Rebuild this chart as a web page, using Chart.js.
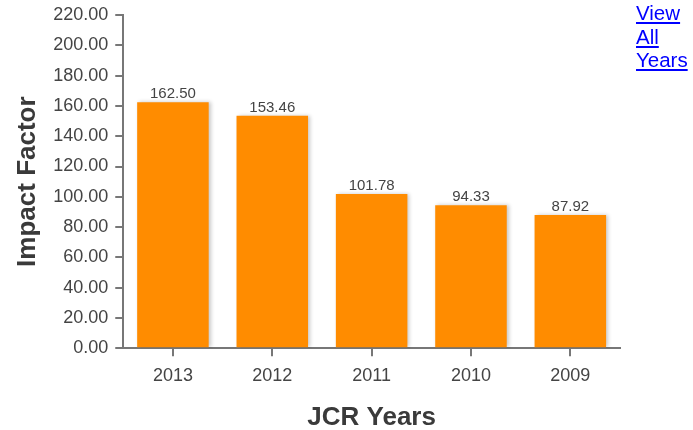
<!DOCTYPE html>
<html>
<head>
<meta charset="utf-8">
<script src="https://cdn.jsdelivr.net/npm/chart.js@4/dist/chart.umd.min.js"></script>
<style>
  html, body { margin: 0; padding: 0; background: #fff; }
  #wrap { position: relative; width: 693px; height: 430px; }
  #c { position: absolute; left: 0; top: 0; }
  #link { position: absolute; left: 636px; top: 1px; font-family: Arial, "Liberation Sans", sans-serif;
          font-size: 20.5px; line-height: 23.5px; color: #0000ff; text-decoration: underline; white-space: nowrap; }
</style>
</head>
<body>
<div id="wrap">
  <canvas id="c" width="693" height="430"></canvas>
  <a id="link" href="#">View<br>All<br>Years</a>
</div>
<script>
const years = ["2013", "2012", "2011", "2010", "2009"];
const impactFactor = [162.50, 153.46, 101.78, 94.33, 87.92];
const yMin = 0, yMax = 220, yStep = 20;

const FONT = 'Arial, "Liberation Sans", sans-serif';
const AXIS = '#777777';

const shadowPlugin = {
  id: 'barShadow',
  beforeDatasetDraw(chart) {
    const ctx = chart.ctx;
    ctx.save();
    ctx.shadowColor = 'rgba(0,0,0,0.22)';
    ctx.shadowBlur = 4;
    ctx.shadowOffsetX = 2;
    ctx.shadowOffsetY = 0;
  },
  afterDatasetDraw(chart) {
    chart.ctx.restore();
  }
};

const labelPlugin = {
  id: 'barLabels',
  afterDatasetsDraw(chart) {
    const ctx = chart.ctx;
    const meta = chart.getDatasetMeta(0);
    ctx.save();
    ctx.font = '15px ' + FONT;
    ctx.fillStyle = '#444444';
    ctx.textAlign = 'center';
    ctx.textBaseline = 'alphabetic';
    meta.data.forEach((bar, i) => {
      ctx.fillText(impactFactor[i].toFixed(2), bar.x, bar.y - 4);
    });
    ctx.restore();
  }
};

new Chart(document.getElementById('c'), {
  type: 'bar',
  data: {
    labels: years,
    datasets: [{
      data: impactFactor,
      backgroundColor: '#FF8C00',
      borderWidth: 0,
      categoryPercentage: 1.0,
      barPercentage: 0.72
    }]
  },
  options: {
    responsive: false,
    animation: false,
    layout: { padding: { left: 12, right: 73, top: 4, bottom: 0 } },
    plugins: {
      legend: { display: false },
      tooltip: { enabled: false },
      title: { display: false }
    },
    scales: {
      x: {
        offset: true,
        grid: { display: true, drawOnChartArea: false, drawTicks: true, tickLength: 8, offset: false, color: AXIS, lineWidth: 2 },
        border: { display: true, color: AXIS, width: 2 },
        ticks: { color: '#444444', font: { family: FONT, size: 18 }, padding: 9 },
        title: { display: true, text: 'JCR Years', color: '#3a3a3a', font: { family: FONT, size: 26, weight: 'bold', lineHeight: 0.97 }, padding: { top: 9, bottom: 0 } }
      },
      y: {
        min: yMin, max: yMax,
        grid: { display: true, drawOnChartArea: false, drawTicks: true, tickLength: 8, color: AXIS, lineWidth: 2 },
        border: { display: true, color: AXIS, width: 2 },
        ticks: { stepSize: yStep, color: '#444444', font: { family: FONT, size: 18, lineHeight: 0.9 }, padding: 7,
                 callback: v => Number(v).toFixed(2) },
        title: { display: true, text: 'Impact Factor', color: '#3a3a3a', font: { family: FONT, size: 26, weight: 'bold' }, padding: { top: 0, bottom: 3 } }
      }
    }
  },
  plugins: [shadowPlugin, labelPlugin]
});
</script>
</body>
</html>
